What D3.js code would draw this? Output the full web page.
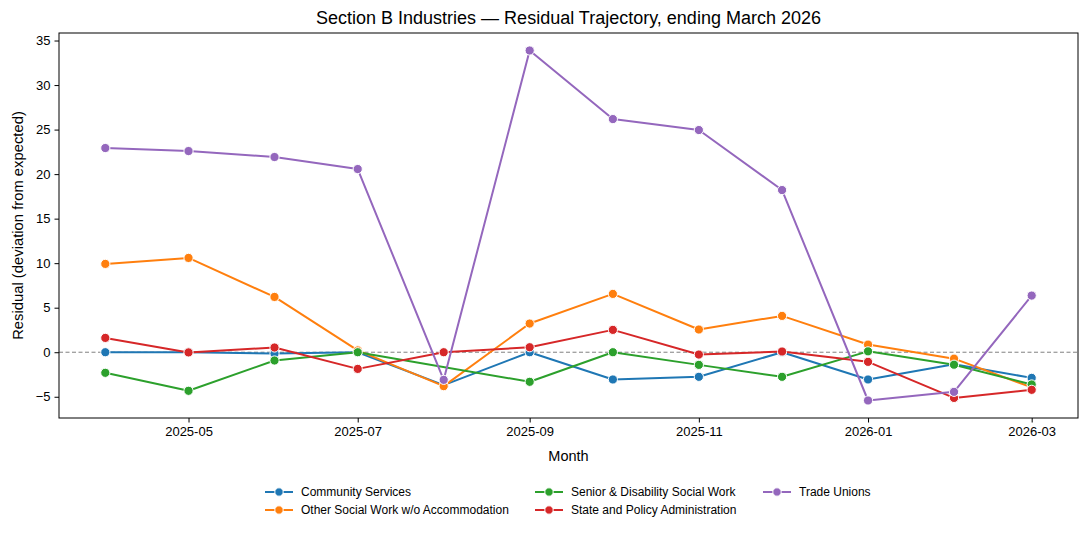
<!DOCTYPE html>
<html>
<head>
<meta charset="utf-8">
<script src="https://cdn.jsdelivr.net/npm/d3@7"></script>
<style>
  body { margin: 0; background: #fff; }
  text { font-family: "Liberation Sans", Arial, sans-serif; fill: #000; }
</style>
</head>
<body>
<div id="chart"></div>
<script>
// months (first of month)
var months = ["2025-04","2025-05","2025-06","2025-07","2025-08","2025-09",
              "2025-10","2025-11","2025-12","2026-01","2026-02","2026-03"];

var seriesNames = ["Community Services", "Other Social Work w/o Accommodation",
  "Senior & Disability Social Work", "State and Policy Administration", "Trade Unions"];
var seriesColors = ["#1f77b4", "#ff7f0e", "#2ca02c", "#d62728", "#9467bd"];

// residuals, null = no value that month
var communityServices = [0.0, 0.0, -0.15, 0.0, -3.7, 0.0, -3.06, -2.76, 0.0, -3.06, -1.35, -2.88];
var otherSocialWork   = [9.92, 10.59, 6.21, 0.2, -3.81, 3.22, 6.55, 2.55, 4.08, 0.86, -0.72, -3.95];
var seniorDisability  = [-2.31, -4.33, -0.93, 0.0, null, -3.32, 0.0, -1.42, -2.76, 0.1, -1.4, -3.62];
var statePolicy       = [1.61, -0.02, 0.53, -1.87, 0.0, 0.56, 2.51, -0.26, 0.08, -1.08, -5.13, -4.22];
var tradeUnions       = [22.93, 22.59, 21.92, 20.57, -3.1, 33.88, 26.18, 24.95, 18.21, -5.42, -4.45, 6.36];

var yTicks = [-5, 0, 5, 10, 15, 20, 25, 30, 35];

var allValues = [communityServices, otherSocialWork, seniorDisability, statePolicy, tradeUnions];
var parse = d3.timeParse("%Y-%m");
var dates = months.map(parse);

var W = 1087, H = 533;
var margin = {left: 59, right: 9, top: 33, bottom: 115};

var svg = d3.select("#chart").append("svg")
    .attr("width", W).attr("height", H);

// 5% padding like matplotlib
var t0 = dates[0].getTime(), t1 = dates[dates.length-1].getTime();
var tp = (t1 - t0) * 0.05;
var x = d3.scaleTime()
    .domain([new Date(t0 - tp), new Date(t1 + tp)])
    .range([margin.left, W - margin.right]);

var flat = [].concat.apply([], allValues).filter(v => v !== null);
var ymin = d3.min(flat), ymax = d3.max(flat);
var yp = (ymax - ymin) * 0.05;
var y = d3.scaleLinear()
    .domain([ymin - yp, ymax + yp])
    .range([H - margin.bottom, margin.top]);

// zero reference line
svg.append("line")
    .attr("x1", margin.left).attr("x2", W - margin.right)
    .attr("y1", y(0)).attr("y2", y(0))
    .attr("stroke", "#808080").attr("stroke-width", 1)
    .attr("stroke-dasharray", "4,2.5");

// axes
var xAxis = svg.append("g")
    .attr("transform", "translate(0," + (H - margin.bottom) + ")")
    .call(d3.axisBottom(x).ticks(d3.timeMonth.every(2)).tickFormat(d3.timeFormat("%Y-%m"))
        .tickSizeOuter(0).tickSize(4.5).tickPadding(4));
var yAxis = svg.append("g")
    .attr("transform", "translate(" + margin.left + ",0)")
    .call(d3.axisLeft(y).tickValues(yTicks).tickSizeOuter(0).tickSize(4.5).tickPadding(4));
[xAxis, yAxis].forEach(function (g) {
    g.select(".domain").remove();
    g.selectAll("text").style("font-size", "13px").style("font-family", "'Liberation Sans', Arial, sans-serif");
    g.selectAll("line").attr("stroke", "#000").attr("stroke-width", 1);
});

// series
var line = d3.line()
    .defined(d => d.v !== null)
    .x(d => x(d.date)).y(d => y(d.v));

allValues.forEach(function (vals, si) {
    var pts = vals.map((v, i) => ({date: dates[i], v: v})).filter(d => d.v !== null);
    var g = svg.append("g");
    g.append("path").datum(pts)
        .attr("d", line)
        .attr("fill", "none")
        .attr("stroke", seriesColors[si])
        .attr("stroke-width", 2)
        .attr("stroke-linejoin", "round");
    g.selectAll("circle").data(pts).enter().append("circle")
        .attr("cx", d => x(d.date)).attr("cy", d => y(d.v))
        .attr("r", 4.6)
        .attr("fill", seriesColors[si])
        .attr("stroke", "#fff").attr("stroke-width", 1);
});

// frame
svg.append("rect")
    .attr("x", margin.left).attr("y", margin.top)
    .attr("width", W - margin.left - margin.right)
    .attr("height", H - margin.top - margin.bottom)
    .attr("fill", "none").attr("stroke", "#000").attr("stroke-width", 1);

// labels
svg.append("text")
    .attr("x", (margin.left + W - margin.right) / 2).attr("y", 24)
    .attr("text-anchor", "middle").style("font-size", "18px")
    .text("Section B Industries \u2014 Residual Trajectory, ending March 2026");
svg.append("text")
    .attr("x", (margin.left + W - margin.right) / 2).attr("y", 461)
    .attr("text-anchor", "middle").style("font-size", "14.5px")
    .text("Month");
svg.append("text")
    .attr("transform", "translate(23," + ((margin.top + H - margin.bottom) / 2) + ") rotate(-90)")
    .attr("text-anchor", "middle").style("font-size", "14.8px")
    .text("Residual (deviation from expected)");

// legend, 3 columns filled column-wise
var colX = [265, 535, 763];
var rowY = [492, 510];
seriesNames.forEach(function (name, i) {
    var col = Math.floor(i / 2), row = i % 2;
    var lg = svg.append("g").attr("transform", "translate(" + colX[col] + "," + rowY[row] + ")");
    lg.append("line").attr("x1", 0).attr("x2", 28).attr("y1", 0).attr("y2", 0)
        .attr("stroke", seriesColors[i]).attr("stroke-width", 2);
    lg.append("circle").attr("cx", 14).attr("cy", 0).attr("r", 4.2)
        .attr("fill", seriesColors[i]).attr("stroke", "#fff").attr("stroke-width", 1);
    lg.append("text").attr("x", 36).attr("y", 4)
        .style("font-size", "12px").text(name);
});
</script>
</body>
</html>
